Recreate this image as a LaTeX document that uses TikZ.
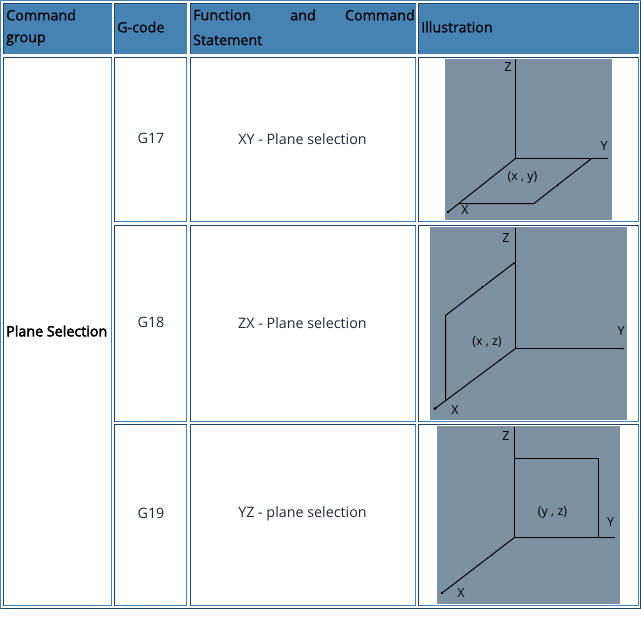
\documentclass[tikz,border=0pt]{standalone}
\usepackage{fontspec}
\setmainfont{Open Sans}
\newfontfamily\fakebold[FakeBold=3]{Open Sans}
\newfontfamily\headfont[FakeBold=0.6]{Open Sans}
\definecolor{darkb}{HTML}{1F4468}
\definecolor{lightb}{HTML}{4682B4}
\definecolor{imgf}{HTML}{7C91A1}
\definecolor{txt}{HTML}{1E2A38}
\newcommand{\tcell}[5]{%
  \fill[#1] (#2,#3) rectangle (#4,#5);
  \draw[lightb,line width=1pt] (#4,#3) -- (#4,#5) -- (#2,#5);
  \draw[darkb,line width=1pt] (#2,#5) -- (#2,#3) -- (#4,#3);
}
\tikzset{
  x=1pt,y=-1pt,
  photo/.style={fill=imgf,draw=none},
  axis/.style={draw=black,line width=1pt},
  lab/.style={inner sep=0pt,font=\fontsize{14.3}{16}\selectfont,text=txt},
  hlab/.style={inner sep=0pt,font=\fontsize{14.3}{16}\headfont,text=black},
  blab/.style={inner sep=0pt,font=\fontsize{14.3}{16}\fakebold,text=black},
  alab/.style={inner sep=0pt,font=\fontsize{12.5}{14}\selectfont,text=black},
}
\begin{document}
\begin{tikzpicture}
\useasboundingbox (0,0) rectangle (641,625);
\fill[white] (0,0) rectangle (641,625);
\draw[lightb,line width=1pt] (0.5,608.5) -- (0.5,0.5) -- (640.5,0.5);
\draw[darkb,line width=1pt] (640.5,0.5) -- (640.5,608.5) -- (0.5,608.5);
% header
\tcell{lightb}{3.5}{3.5}{111.5}{53.5}
\tcell{lightb}{114.5}{3.5}{186.5}{53.5}
\tcell{lightb}{190.5}{3.5}{415.5}{53.5}
\tcell{lightb}{418.5}{3.5}{638.5}{53.5}
% body
\tcell{white}{3.5}{57.5}{111.5}{605.5}
\tcell{white}{114.5}{57.5}{186.5}{221.5}
\tcell{white}{190.5}{57.5}{415.5}{221.5}
\tcell{white}{418.5}{57.5}{638.5}{221.5}
\tcell{white}{114.5}{225.5}{186.5}{421.5}
\tcell{white}{190.5}{225.5}{415.5}{421.5}
\tcell{white}{418.5}{225.5}{638.5}{421.5}
\tcell{white}{114.5}{424.5}{186.5}{605.5}
\tcell{white}{190.5}{424.5}{415.5}{605.5}
\tcell{white}{418.5}{424.5}{638.5}{605.5}
% header text
\node[hlab,anchor=west] (h1a) at (6,15) {Command};
\node[hlab,anchor=west] (h1b) at (6,40) {group};
\node[hlab,anchor=west] (h2) at (117,27) {G-code};
\node[hlab,anchor=west] (h3a) at (193,15) {Function};
\node[hlab] (h3b) at (303,15) {and};
\node[hlab,anchor=east] (h3c) at (415,15) {Command};
\node[hlab,anchor=west] (h3d) at (193,40) {Statement};
\node[hlab,anchor=west] (h4) at (421,27) {Illustration};
% body text
\node[blab,anchor=west] (pg) at (6,331) {Plane Selection};
\node[lab] (g17) at (151,138) {G17};
\node[lab] (g18) at (151,322) {G18};
\node[lab] (g19) at (151,513) {G19};
\node[lab] (f17) at (302.5,139) {XY - Plane selection};
\node[lab] (f18) at (302.5,323) {ZX - Plane selection};
\node[lab] (f19) at (302.5,514) {YZ - plane selection};
% image 1
\fill[photo] (445,59) rectangle (612,220);
\draw[axis] (515.5,59) -- (515.5,158.5) -- (608,158.5);
\draw[axis] (515.5,158.5) -- (448,212);
\draw[axis] (458,203.5) -- (534,203.5) -- (591.5,158.5);
\fill (448,212) circle (1.3);
\fill (558,185) circle (1);
\node[alab] (z1) at (508,67) {Z};
\node[alab] (y1) at (604,146) {Y};
\node[alab] (x1) at (465,210) {X};
\node[alab] (p1) at (522.5,178) {(x , y)};
% image 2
\fill[photo] (430,227) rectangle (627,420);
\draw[axis] (515.5,228) -- (515.5,348.5) -- (623,348.5);
\draw[axis] (515.5,348.5) -- (435,408.5);
\draw[axis] (514,263) -- (445.5,315.5) -- (445.5,401);
\fill (435,408.5) circle (1.6);
\fill (514,263) circle (1);
\fill (482,287) circle (1);
\fill (500,360) circle (1);
\fill (623,348.5) circle (1);
\node[alab] (z2) at (506,238) {Z};
\node[alab] (y2) at (621,331) {Y};
\node[alab] (x2) at (455,410) {X};
\node[alab] (p2) at (487,342) {(x , z)};
% image 3
\fill[photo] (437,426) rectangle (620,604);
\draw[axis] (514.5,427) -- (514.5,537.5) -- (615,537.5);
\draw[axis] (514.5,458.5) -- (598.5,458.5) -- (598.5,537.5);
\draw[axis] (514.5,537.5) -- (442,593);
\fill (442,593) circle (1.4);
\fill (492,555) circle (1);
\node[alab] (z3) at (506,436) {Z};
\node[alab] (y3) at (610.5,522) {Y};
\node[alab] (x3) at (461,593) {X};
\node[alab] (p3) at (552.5,513) {(y , z)};
\end{tikzpicture}
\end{document}
